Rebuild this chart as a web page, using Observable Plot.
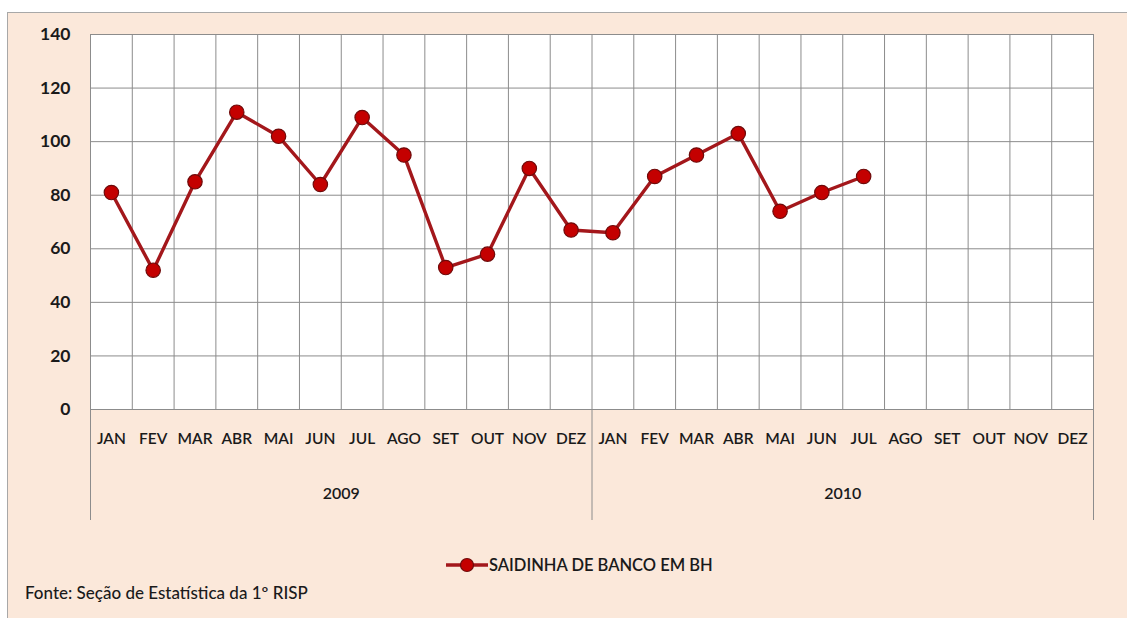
<!DOCTYPE html>
<html>
<head>
<meta charset="utf-8">
<script src="https://cdn.jsdelivr.net/npm/d3@7"></script>
<script src="https://cdn.jsdelivr.net/npm/@observablehq/plot@0.6"></script>
<style>
  body { margin: 0; background: #ffffff; font-family: Lato, "Open Sans", sans-serif; }
  #wrap { position: relative; width: 1127px; height: 618px; overflow: hidden; }
  #frame { position: absolute; left: 7px; top: 12px; width: 1130px; height: 620px;
           background: #fbe8da; border: 1px solid #a8a8a8; box-sizing: border-box; }
  #chart { position: absolute; left: 0; top: 0; }
  #legend { position: absolute; left: 446px; top: 555px; display: flex; align-items: center;
            font-size: 16.5px; color: #1a1a1a; font-weight: 600; }
  #caption { position: absolute; left: 25px; top: 582px; font-size: 17px; color: #1a1a1a; font-weight: 500; }
</style>
</head>
<body>
<div id="wrap">
  <div id="frame"></div>
  <div id="chart"></div>
  <div id="legend"></div>
  <div id="caption"></div>
</div>
<script>
const months = ["JAN","FEV","MAR","ABR","MAI","JUN","JUL","AGO","SET","OUT","NOV","DEZ"];
const years = ["2009","2010"];
const values2009 = [81, 52, 85, 111, 102, 84, 109, 95, 53, 58, 90, 67];
const values2010 = [66, 87, 95, 103, 74, 81, 87];
const yTicks = [0, 20, 40, 60, 80, 100, 120, 140];
const seriesName = "SAIDINHA DE BANCO EM BH";
const source = "Fonte: Seção de Estatística da 1º RISP";

const lineColor = "#a3171b";
const dotFill = "#c40000";
const dotStroke = "#6e0a0a";

const data = [
  ...values2009.map((v, i) => ({idx: i, year: years[0], month: months[i], value: v})),
  ...values2010.map((v, i) => ({idx: 12 + i, year: years[1], month: months[i], value: v}))
];
const nCols = months.length * years.length;
const centers = d3.range(nCols).map(i => i + 0.5);

const chart = Plot.plot({
  width: 1127,
  height: 618,
  marginLeft: 90,
  marginRight: 34,
  marginTop: 34,
  marginBottom: 209,
  style: { background: "transparent", fontFamily: "Lato, 'Open Sans', sans-serif", color: "#1a1a1a" },
  x: { type: "linear", domain: [0, nCols] },
  y: { domain: [0, 140] },
  marks: [
    Plot.frame({ fill: "white", stroke: "#9a9a9a" }),
    Plot.gridY(yTicks, { stroke: "#8c8c8c", strokeOpacity: 1, strokeWidth: 1 }),
    Plot.gridX(d3.range(nCols + 1), { stroke: "#8c8c8c", strokeOpacity: 1, strokeWidth: 1 }),
    Plot.axisY(yTicks, { tickSize: 0, tickPadding: 20, fontSize: 17.5, fontWeight: "bold", label: null }),
    Plot.axisX(centers, { tickSize: 0, tickPadding: 23, fontSize: 15.5, fontWeight: 600,
      tickFormat: d => months[Math.floor(d) % 12], label: null }),
    Plot.axisX([6, 18], { tickSize: 0, tickPadding: 78, fontSize: 16, fontWeight: 600,
      tickFormat: d => years[Math.floor(d / 12)], label: null }),
    Plot.axisX([0, 12, 24], { tickSize: 111, stroke: "#8c8c8c", tickFormat: () => "", label: null }),
    Plot.lineY(data, { x: d => d.idx + 0.5, y: "value", z: null, stroke: lineColor, strokeWidth: 3.4 }),
    Plot.dot(data, { x: d => d.idx + 0.5, y: "value", r: 7.2, fill: dotFill, stroke: dotStroke, strokeWidth: 1.2 })
  ]
});
document.getElementById("chart").appendChild(chart);

// legend
const leg = document.getElementById("legend");
const ns = "http://www.w3.org/2000/svg";
const sw = document.createElementNS(ns, "svg");
sw.setAttribute("width", 42); sw.setAttribute("height", 20);
const ln = document.createElementNS(ns, "line");
ln.setAttribute("x1", 0); ln.setAttribute("x2", 42); ln.setAttribute("y1", 10); ln.setAttribute("y2", 10);
ln.setAttribute("stroke", lineColor); ln.setAttribute("stroke-width", 3.4);
const c = document.createElementNS(ns, "circle");
c.setAttribute("cx", 21); c.setAttribute("cy", 10); c.setAttribute("r", 6.5);
c.setAttribute("fill", dotFill); c.setAttribute("stroke", dotStroke); c.setAttribute("stroke-width", 1.2);
sw.appendChild(ln); sw.appendChild(c);
leg.appendChild(sw);
const lt = document.createElement("span");
lt.textContent = seriesName; lt.style.marginLeft = "1px";
leg.appendChild(lt);
document.getElementById("caption").textContent = source;
</script>
</body>
</html>
